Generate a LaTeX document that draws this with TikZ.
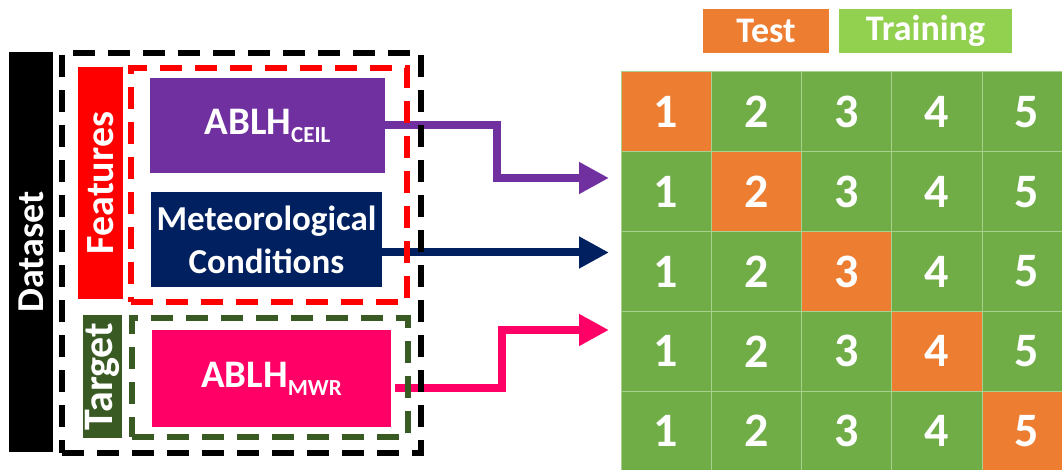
\documentclass[tikz,border=0pt]{standalone}
\usepackage{fontspec}
\setmainfont{Carlito}
\usetikzlibrary{arrows.meta}
\definecolor{orangeC}{HTML}{ED7D31}
\definecolor{greenC}{HTML}{70AD47}
\definecolor{lgreenC}{HTML}{92D050}
\definecolor{gridC}{HTML}{A9D18E}
\definecolor{purpleC}{HTML}{7030A0}
\definecolor{navyC}{HTML}{002060}
\definecolor{pinkC}{HTML}{FF0066}
\definecolor{redC}{HTML}{FF0000}
\definecolor{dgreenC}{HTML}{3A5A24}
\tikzset{
  lbl/.style={text=white, font=\bfseries\fontsize{38}{43}\selectfont, inner sep=0pt, align=center},
  bar/.style={lbl, rotate=90},
  box/.style={lbl, font=\bfseries\fontsize{35}{43}\selectfont},
  abl/.style={lbl, font=\bfseries\fontsize{39}{43}\selectfont},
  dbox/.style={line width=6pt, dash pattern=on 22pt off 13pt, inner sep=0pt},
  arr/.style={line width=8pt, -{Triangle[length=30pt,width=30pt]}},
  cell/.style={draw=gridC, line width=1pt, minimum width=90.25pt, minimum height=79.8pt,
    inner sep=0pt, text=white, font=\bfseries\fontsize{48}{48}\selectfont},
  leg/.style={text=white, font=\bfseries\fontsize{36}{36}\selectfont, inner sep=0pt, minimum height=44pt}
}
\newcommand{\sbs}[1]{\raisebox{-8pt}{\fontsize{23}{23}\selectfont #1}}
\begin{document}
\begin{tikzpicture}[x=1pt,y=-1pt]
\useasboundingbox (0,0) rectangle (1062,470);
\fill[white] (0,0) rectangle (1062,470);

% left boxes
\node[bar, fill=black, minimum width=400pt, minimum height=44pt] (dataset) at (31,252) {Dataset};
\node[bar, fill=redC, font=\bfseries\fontsize{40}{43}\selectfont, minimum width=232pt, minimum height=45pt] (features) at (100.5,183) {Features};
\node[bar, fill=dgreenC, font=\bfseries\fontsize{42}{42}\selectfont, minimum width=123pt, minimum height=39pt] (target) at (102.5,376.5) {Target};

\node[abl, fill=purpleC, minimum width=235pt, minimum height=95pt] (ceil) at (267.5,125.5) {ABLH\sbs{CEIL}};
\node[box, fill=navyC, minimum width=231pt, minimum height=95pt] (met) at (266.5,239.5) {Meteorological\\Conditions};
\node[abl, fill=pinkC, minimum width=239pt, minimum height=97pt] (mwr) at (271.5,378.5) {ABLH\sbs{MWR}};

% legend
\node[leg, fill=orangeC, minimum width=126pt] (test) at (766,31) {Test};
\node[leg, fill=lgreenC, minimum width=173pt] (train) at (925.5,31) {Training};

% grid
\begin{scope}
\clip (0,0) rectangle (1062,470);
\foreach \r in {1,...,5} {
  \foreach \c in {1,...,5} {
    \ifnum\r=\c \def\fc{orangeC}\else\def\fc{greenC}\fi
    \node[cell, fill=\fc] (c\r\c) at ({621+(\c-0.5)*90.25}, {72+(\r-0.5)*79.8}) {\c};
  }
}
\end{scope}

% arrow end points
\coordinate (pa) at (609,178);
\coordinate (pb) at (609,252.5);
\coordinate (pc) at (609,330);

% arrows
\draw[arr, purpleC] (ceil.east) -- ++(112,0) |- (pa);
\draw[arr, navyC] ([yshift=-13pt]met.east) -- (pb);
\draw[arr, pinkC] ([xshift=4pt,yshift=-9.5pt]mwr.east) -- ++(107,0) |- (pc);

% dashed frames
\node[dbox, draw=black, minimum width=359pt, minimum height=400pt] (dsframe) at (241.5,253) {};
\node[dbox, draw=redC, line width=5.5pt, minimum width=276pt, minimum height=234pt] (ftframe) at (269,185) {};
\node[dbox, draw=dgreenC, line width=5.5pt, minimum width=276pt, minimum height=119pt] (tgframe) at (270,377.5) {};
\end{tikzpicture}
\end{document}
